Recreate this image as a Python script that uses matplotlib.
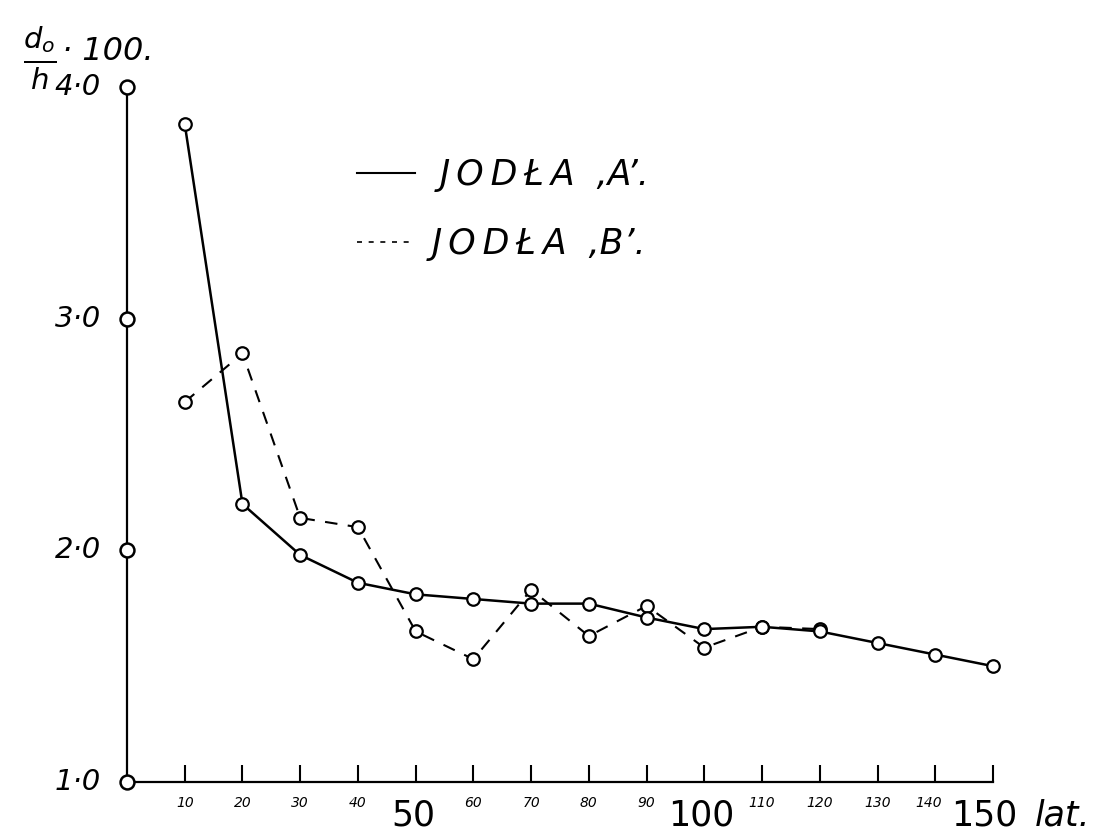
import matplotlib
matplotlib.use("Agg")
import matplotlib.pyplot as plt
from matplotlib.lines import Line2D

# ---- data ----
ages = [10, 20, 30, 40, 50, 60, 70, 80, 90, 100, 110, 120, 130, 140, 150]
jodla_a = [3.84, 2.20, 1.98, 1.86, 1.81, 1.79, 1.77, 1.77, 1.71, 1.66, 1.67, 1.65, 1.60, 1.55, 1.50]
ages_b = [10, 20, 30, 40, 50, 60, 70, 80, 90, 100, 110, 120]
jodla_b = [2.64, 2.85, 2.14, 2.10, 1.65, 1.53, 1.83, 1.63, 1.76, 1.58, 1.67, 1.66]
y_ticks = [1.0, 2.0, 3.0, 4.0]
y_labels = ["1·0", "2·0", "3·0", "4·0"]
x_ticks = [10, 20, 30, 40, 50, 60, 70, 80, 90, 100, 110, 120, 130, 140, 150]
x_labels = ["10", "20", "30", "40", "50", "60", "70", "80", "90", "100", "110", "120", "130", "140", "150"]
big_labels = ["50", "100", "150"]

plt.rcParams['font.family'] = ['DejaVu Sans']
fig = plt.figure(figsize=(10.96, 8.39), dpi=100)
W, H = 1096, 839
x0, x1 = 127, 993
y0, y1 = 782, 87
ax = fig.add_axes([x0 / W, 1 - y0 / H, (x1 - x0) / W, (y0 - y1) / H])
ax.set_xlim(0, 150)
ax.set_ylim(1.0, 4.0)
for s in ['top', 'right']:
    ax.spines[s].set_visible(False)
for s in ['left', 'bottom']:
    ax.spines[s].set_linewidth(1.6)
    ax.spines[s].set_zorder(1)
ax.set_yticks([])
ax.set_xticks(x_ticks)
ax.set_xticklabels([])
ax.tick_params(axis='x', direction='in', length=12, width=1.5)

# circles on the y axis
ax.plot([0] * len(y_ticks), y_ticks, 'o', ms=10, mfc='white', mec='black', mew=1.8,
        clip_on=False, zorder=5)
for y, lab in zip(y_ticks, y_labels):
    ax.text(-4.5, y, lab, ha='right', va='center', fontsize=21, style='italic',
            clip_on=False)

# x tick labels
for x, lab in zip(x_ticks, x_labels):
    if lab in big_labels:
        dx = -6 if lab == "150" else -2
        ax.annotate(lab, (x, 1.0), xytext=(dx, -24), textcoords='offset points',
                    ha='center', va='center', fontsize=25,
                    annotation_clip=False)
    else:
        dx = -5 if lab == "140" else 0
        ax.annotate(lab, (x, 1.0), xytext=(dx, -15), textcoords='offset points',
                    ha='center', va='center', fontsize=10, style='italic',
                    annotation_clip=False)
ax.annotate("lat.", (150, 1.0), xytext=(50, -24), textcoords='offset points',
            ha='center', va='center', fontsize=25, style='italic', annotation_clip=False)

# series
ax.plot(ages, jodla_a, '-', color='black', lw=1.8, marker='o', ms=9,
        mfc='white', mec='black', mew=1.6, clip_on=False, zorder=4)
ax.plot(ages_b, jodla_b, '--', color='black', lw=1.5, dashes=(6, 5), marker='o', ms=9,
        mfc='white', mec='black', mew=1.6, clip_on=False, zorder=3)

# y label
fig.text(40 / W, 1 - 58 / H, r'$\frac{d_o}{h}$', fontsize=30, ha='center', va='center')
fig.text(62 / W, 1 - 52 / H, "· 100.", fontsize=23, ha='left', va='center', style='italic')

# legend
ts = "\u2009"
fig.add_artist(Line2D([357 / W, 415 / W], [1 - 173 / H, 1 - 173 / H], color='black', lw=1.5))
fig.add_artist(Line2D([357 / W, 415 / W], [1 - 242 / H, 1 - 242 / H], color='black', lw=1.2,
                      linestyle=(0, (3, 4))))
fig.text(440 / W, 1 - 175 / H, ts.join("JODŁA") + "  ‚A’.", fontsize=25, style='italic',
         ha='left', va='center')
fig.text(432 / W, 1 - 244 / H, ts.join("JODŁA") + "  ‚B’.", fontsize=25, style='italic',
         ha='left', va='center')

fig.savefig("out.png", dpi=100, facecolor='white')
